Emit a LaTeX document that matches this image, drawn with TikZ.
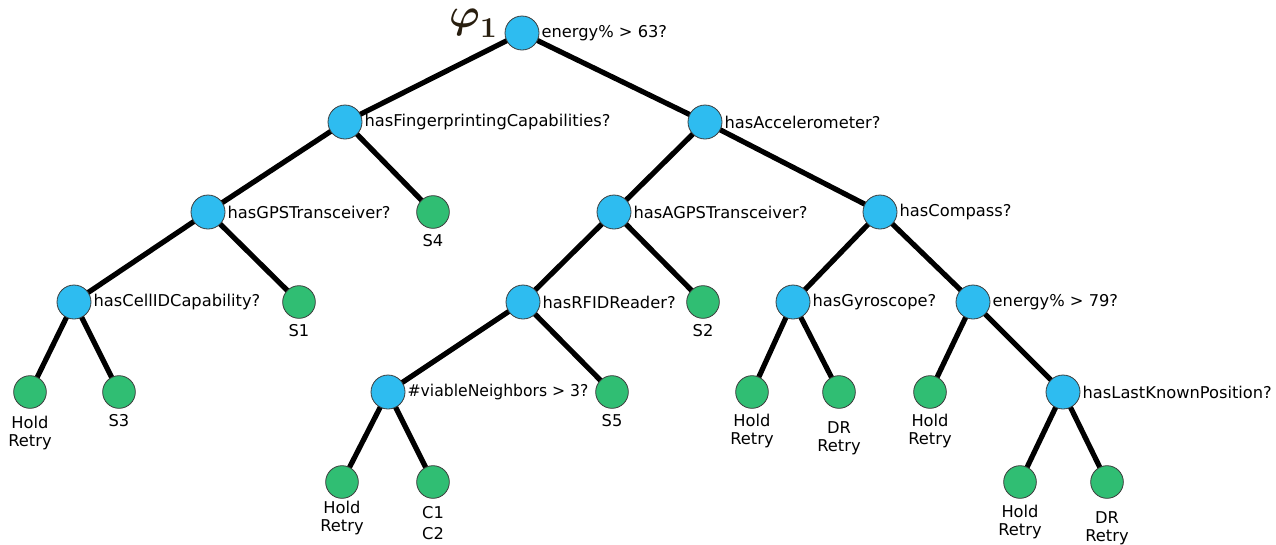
\documentclass[tikz,border=0pt]{standalone}
\usepackage{fontspec}
\usepackage{unicode-math}
\usetikzlibrary{backgrounds}
\setmainfont{DejaVu Sans}
\definecolor{qblue}{RGB}{46,188,240}
\definecolor{qgreen}{RGB}{48,190,115}
\definecolor{rimgray}{RGB}{60,60,60}
\definecolor{phicol}{RGB}{40,30,15}
\begin{document}
\begin{tikzpicture}[x=0.75pt,y=-0.75pt,
  every node/.style={font=\fontsize{12.2}{13.5}\selectfont},
  test/.style={circle,fill=qblue,draw=rimgray,line width=0.6pt,minimum size=25.5pt,inner sep=0pt},
  leaf/.style={circle,fill=qgreen,draw=rimgray,line width=0.6pt,minimum size=24.5pt,inner sep=0pt},
  question/.style={anchor=west,inner sep=0pt,xshift=1.5pt},
  outcome/.style={align=center,inner sep=0pt},
  treename/.style={text=phicol,inner sep=0pt,font=\fontsize{31}{33}\selectfont},
  branch/.style={line width=3.9pt,black}]
\useasboundingbox (0,0) rectangle (1276,544);

% decision nodes
\node[test] (root) at (522,33) {};
\node[test] (fp)   at (345,122) {};
\node[test] (acc)  at (705,122) {};
\node[test] (gps)  at (208,212) {};
\node[test] (agps) at (614,212) {};
\node[test] (cmp)  at (880,212) {};
\node[test] (cell) at (74,302) {};
\node[test] (rfid) at (523,302) {};
\node[test] (gyro) at (793,302) {};
\node[test] (en79) at (973,302) {};
\node[test] (nbr)  at (388,392) {};
\node[test] (lkp)  at (1063,392) {};

% outcome leaves
\node[leaf] (s4)   at (433,212) {};
\node[leaf] (s1)   at (299,302) {};
\node[leaf] (s2)   at (703,302) {};
\node[leaf] (h1)   at (30,392) {};
\node[leaf] (s3)   at (119,392) {};
\node[leaf] (s5)   at (612,392) {};
\node[leaf] (h2)   at (752,392) {};
\node[leaf] (dr1)  at (839,392) {};
\node[leaf] (h3)   at (930,392) {};
\node[leaf] (h4)   at (342,482) {};
\node[leaf] (c12)  at (433,482) {};
\node[leaf] (h5)   at (1020,482) {};
\node[leaf] (dr2)  at (1107,482) {};

% branches, kept behind the circles
\begin{pgfonlayer}{background}
\foreach \a/\b in {root/fp,root/acc,fp/gps,fp/s4,acc/agps,acc/cmp,
  gps/cell,gps/s1,agps/rfid,agps/s2,cmp/gyro,cmp/en79,
  cell/h1,cell/s3,rfid/nbr,rfid/s5,gyro/h2,gyro/dr1,en79/h3,en79/lkp,
  nbr/h4,nbr/c12,lkp/h5,lkp/dr2}
  \draw[branch] (\a.center) -- (\b.center);
\end{pgfonlayer}

% questions
\node[question] (qroot) at (root.east) {energy\% > 63?};
\node[question] (qfp)   at (fp.east)   {hasFingerprintingCapabilities?};
\node[question] (qacc)  at (acc.east)  {hasAccelerometer?};
\node[question] (qgps)  at (gps.east)  {hasGPSTransceiver?};
\node[question] (qagps) at (agps.east) {hasAGPSTransceiver?};
\node[question] (qcmp)  at (cmp.east)  {hasCompass?};
\node[question] (qcell) at (cell.east) {hasCellIDCapability?};
\node[question] (qrfid) at (rfid.east) {hasRFIDReader?};
\node[question] (qgyro) at (gyro.east) {hasGyroscope?};
\node[question] (qen79) at (en79.east) {energy\% > 79?};
\node[question,xscale=0.96] (qnbr)  at (nbr.east)  {\#viableNeighbors > 3?};
\node[question] (qlkp)  at (lkp.east)  {hasLastKnownPosition?};

% outcomes
\node[outcome] (ls4)  at (433,241) {S4};
\node[outcome] (ls1)  at (299,331) {S1};
\node[outcome] (ls2)  at (703,331) {S2};
\node[outcome] (lh1)  at (30,433)  {Hold\\Retry};
\node[outcome] (ls3)  at (119,421) {S3};
\node[outcome] (ls5)  at (612,421) {S5};
\node[outcome] (lh2)  at (752,431) {Hold\\Retry};
\node[outcome] (ldr1) at (839,438) {DR\\Retry};
\node[outcome] (lh3)  at (930,431) {Hold\\Retry};
\node[outcome] (lh4)  at (342,518) {Hold\\Retry};
\node[outcome,font=\fontsize{12.2}{15.5}\selectfont] (lc12) at (433,523) {C1\\C2};
\node[outcome] (lh5)  at (1020,522) {Hold\\Retry};
\node[outcome] (ldr2) at (1107,528) {DR\\Retry};

% tree name
\node[treename] (phi) at (474,23) {$\symbfit{\varphi}_{\symbf{1}}$};
\end{tikzpicture}
\end{document}
